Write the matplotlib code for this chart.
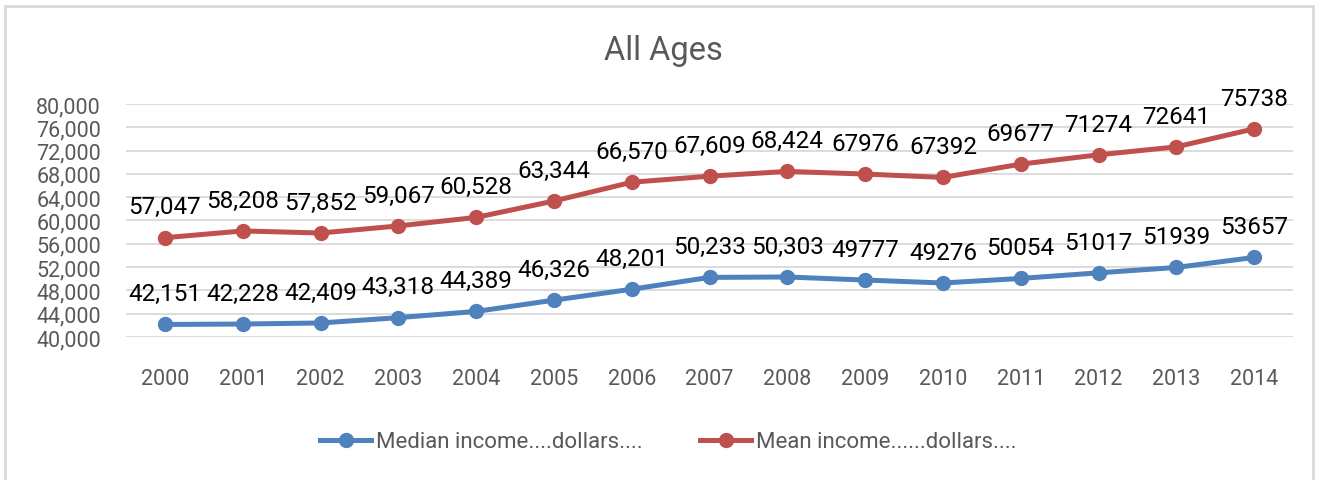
import matplotlib
matplotlib.use("Agg")
import matplotlib.pyplot as plt
from matplotlib.patches import Rectangle

years = ["2000", "2001", "2002", "2003", "2004", "2005", "2006", "2007",
         "2008", "2009", "2010", "2011", "2012", "2013", "2014"]
median = [42151, 42228, 42409, 43318, 44389, 46326, 48201, 50233,
          50303, 49777, 49276, 50054, 51017, 51939, 53657]
mean = [57047, 58208, 57852, 59067, 60528, 63344, 66570, 67609,
        68424, 67976, 67392, 69677, 71274, 72641, 75738]
median_labels = ["42,151", "42,228", "42,409", "43,318", "44,389", "46,326", "48,201", "50,233",
                 "50,303", "49777", "49276", "50054", "51017", "51939", "53657"]
mean_labels = ["57,047", "58,208", "57,852", "59,067", "60,528", "63,344", "66,570", "67,609",
               "68,424", "67976", "67392", "69677", "71274", "72641", "75738"]
yticks = [40000, 44000, 48000, 52000, 56000, 60000, 64000, 68000, 72000, 76000, 80000]

plt.rcParams['font.family'] = ['Roboto', 'DejaVu Sans']

W, H = 1322, 481
fig = plt.figure(figsize=(W / 100, H / 100), dpi=100)
ax = fig.add_axes([126 / W, 1 - 338 / H, (1293 - 126) / W, (338 - 105) / H])

blue = "#4F81BD"
red = "#C0504D"
x = list(range(len(years)))

ax.plot(x, median, color=blue, lw=3.6, marker='o', ms=10, label="Median income....dollars....", zorder=3)
ax.plot(x, mean, color=red, lw=3.6, marker='o', ms=10, label="Mean income......dollars....", zorder=3)

for xi, v, t in zip(x, median, median_labels):
    ax.annotate(t, (xi, v), xytext=(0, 17.5), textcoords='offset points',
                ha='center', va='baseline', fontsize=17.5, color='black', zorder=4)
for xi, v, t in zip(x, mean, mean_labels):
    ax.annotate(t, (xi, v), xytext=(0, 17.5), textcoords='offset points',
                ha='center', va='baseline', fontsize=17.5, color='black', zorder=4)

ax.set_xlim(-0.5, 14.5)
ax.set_ylim(40000, 80000)
ax.set_yticks(yticks)
ax.set_yticklabels([f"{v:,}" for v in yticks])
ax.set_xticks(x)
ax.set_xticklabels(years)
ax.tick_params(axis='both', length=0, labelsize=15.5, labelcolor='#595959')
ax.tick_params(axis='x', pad=22)
ax.tick_params(axis='y', pad=18)
ax.grid(axis='y', color='#D9D9D9', lw=1.3)
ax.set_axisbelow(True)
for s in ax.spines.values():
    s.set_visible(False)

fig.text(663 / W, 1 - 51 / H, "All Ages", ha='center', va='center', fontsize=23.5, color='#595959')

leg = fig.legend(loc='center', bbox_to_anchor=(668 / W, 1 - 443 / H), ncol=2, frameon=False,
                 fontsize=16, handlelength=2.3, handletextpad=0.2, columnspacing=2.6)
for t in leg.get_texts():
    t.set_color('#595959')

fig.patches.append(Rectangle((5 / W, -0.05), (1313 - 5) / W, 1.05 - 7 / H,
                             transform=fig.transFigure, fill=False, edgecolor='#D9D9D9', lw=2))

fig.savefig("out.png", dpi=100)
